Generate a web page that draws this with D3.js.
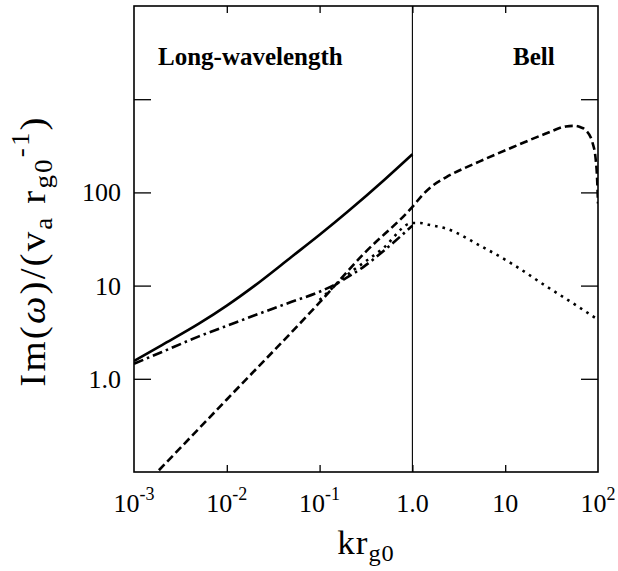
<!DOCTYPE html>
<html>
<head>
<meta charset="utf-8">
<script src="https://cdn.jsdelivr.net/npm/d3@7"></script>
<style>
  body { margin: 0; background: #fff; }
  svg { display: block; font-family: "Liberation Serif", serif; }
</style>
</head>
<body>
<div id="app"></div>
<script>
// Growth rate curves (k in units of 1/r_g0)
const solidK = [0.001, 0.002, 0.005, 0.01, 0.02, 0.05, 0.1, 0.2, 0.5, 1.0];
const solidV = [1.55, 2.3, 3.9, 6.1, 10.0, 20.4, 35.1, 62, 137, 257];

const dashDotK = [0.001, 0.002, 0.005, 0.01, 0.02, 0.05, 0.1, 0.15, 0.2, 0.3, 0.5, 1.0];
const dashDotV = [1.45, 1.94, 2.85, 3.7, 4.8, 6.7, 8.6, 10.4, 12.3, 16, 24, 44];

const dashedK = [0.001, 0.01, 0.1, 0.3, 1.0, 1.3, 1.6, 2.3, 5.25, 12, 27, 45, 55, 65, 74, 87, 94.5, 98, 100];
const dashedV = [0.055, 0.6, 6.6, 22, 70, 95, 115, 145, 214, 305, 425, 510, 518, 500, 465, 345, 225, 135, 76];

const dottedK = [0.1, 0.18, 0.48, 1.0, 1.2, 1.5, 2.3, 5.3, 12, 27, 62, 100];
const dottedV = [7, 12, 25, 47, 47, 45, 41, 27, 17, 10, 5.9, 4.3];

// axes
const xTicks = [1e-3, 1e-2, 1e-1, 1, 10, 100];
const xTickBase = ['10', '10', '10', '1.0', '10', '10'];
const xTickExp = ['-3', '-2', '-1', '', '', '2'];
const yTicks = [0.1, 1, 10, 100, 1000, 1e4];
const yTickLabels = ['', '1.0', '10', '100', '', ''];

const regionLabels = ['Long-wavelength', 'Bell'];

const W = 618, H = 571;
const margin = {top: 6, right: 20, bottom: 99, left: 134};
const width = W - margin.left - margin.right;
const height = H - margin.top - margin.bottom;

const x = d3.scaleLog().domain([1e-3, 1e2]).range([0, width]);
const y = d3.scaleLog().domain([0.1, 1e4]).range([height, 0]);

const svg = d3.select('#app').append('svg')
  .attr('width', W).attr('height', H);

svg.append('defs').append('clipPath').attr('id', 'plot-clip')
  .append('rect').attr('width', width).attr('height', height);

const g = svg.append('g')
  .attr('transform', `translate(${margin.left},${margin.top})`);

// ticks on all four sides, pointing inward
function styleAxis(sel) {
  sel.select('.domain').remove();
  sel.selectAll('.tick line').attr('stroke', '#000').attr('stroke-width', 1.3);
  sel.selectAll('.tick text').remove();
}
const xt = xTicks.filter(d => d > 1e-3 && d < 1e2);
g.append('g').attr('transform', `translate(0,${height})`)
  .call(d3.axisBottom(x).tickValues(xt).tickSize(-7).tickFormat(''))
  .call(styleAxis);
g.append('g')
  .call(d3.axisTop(x).tickValues(xt).tickSize(-7).tickFormat(''))
  .call(styleAxis);
const yt = yTicks.filter(d => d > 0.1 && d < 1e4);
g.append('g')
  .call(d3.axisLeft(y).tickValues(yt).tickSize(-17).tickFormat(''))
  .call(styleAxis);
g.append('g').attr('transform', `translate(${width},0)`)
  .call(d3.axisRight(y).tickValues(yt).tickSize(-17).tickFormat(''))
  .call(styleAxis);

// frame and divider at kr = 1
g.append('rect')
  .attr('width', width).attr('height', height)
  .attr('fill', 'none').attr('stroke', '#000').attr('stroke-width', 1.6);
g.append('line')
  .attr('x1', x(1)).attr('x2', x(1)).attr('y1', 0).attr('y2', height)
  .attr('stroke', '#000').attr('stroke-width', 1.1);

// tick labels
const xl = g.append('g').attr('font-size', 26).attr('text-anchor', 'middle');
xTicks.forEach((t, i) => {
  const txt = xl.append('text')
    .attr('x', x(t))
    .attr('y', height + 40);
  txt.append('tspan').text(xTickBase[i]);
  if (xTickExp[i]) {
    txt.append('tspan').attr('font-size', 18).attr('dy', -12).text(xTickExp[i]);
  }
});
g.append('g').attr('font-size', 26).attr('text-anchor', 'end')
  .selectAll('text').data(yTicks.filter((d, i) => yTickLabels[i])).join('text')
  .attr('x', -13)
  .attr('y', d => y(d) + 9)
  .text(d => yTickLabels[yTicks.indexOf(d)]);

// axis titles (spaced out a little to match the wider TeX glyphs)
const xTitle = svg.append('text')
  .attr('transform', 'translate(366,554) scale(1.06,1)')
  .attr('text-anchor', 'middle')
  .attr('letter-spacing', 1)
  .attr('font-size', 33);
xTitle.append('tspan').text('kr');
xTitle.append('tspan').attr('font-size', 23).attr('dy', 7).text('g0');

const yTitle = svg.append('text')
  .attr('transform', 'translate(45,251) rotate(-90) scale(1.08,1)')
  .attr('text-anchor', 'middle')
  .attr('letter-spacing', 2)
  .attr('font-size', 36);
yTitle.append('tspan').text('Im(');
yTitle.append('tspan').attr('font-style', 'italic').text('ω');
yTitle.append('tspan').text(')/(v');
yTitle.append('tspan').attr('font-size', 25).attr('dy', 7).text('a');
yTitle.append('tspan').attr('dy', -7).text(' r');
yTitle.append('tspan').attr('font-size', 25).attr('dy', 7).text('g0');
yTitle.append('tspan').attr('font-size', 25).attr('dy', -23).text('-1');
yTitle.append('tspan').attr('dy', 16).text(')');

// region labels
g.append('text').attr('x', 24).attr('y', 59)
  .attr('font-size', 25).attr('font-weight', 'bold')
  .text(regionLabels[0]);
g.append('text').attr('x', 379).attr('y', 59)
  .attr('font-size', 25).attr('font-weight', 'bold')
  .text(regionLabels[1]);

// curves
const line = d3.line()
  .x(d => x(d[0]))
  .y(d => y(d[1]))
  .curve(d3.curveMonotoneX);

const series = [
  {k: solidK, v: solidV, dash: null},
  {k: dashDotK, v: dashDotV, dash: '10 4 2.5 4'},
  {k: dashedK, v: dashedV, dash: '8 4'},
  {k: dottedK, v: dottedV, dash: '2.6 5'}
];

const curves = g.append('g').attr('clip-path', 'url(#plot-clip)');
series.forEach(s => {
  curves.append('path')
    .datum(d3.zip(s.k, s.v))
    .attr('d', line)
    .attr('fill', 'none')
    .attr('stroke', '#000')
    .attr('stroke-width', 2.6)
    .attr('stroke-dasharray', s.dash);
});
</script>
</body>
</html>
